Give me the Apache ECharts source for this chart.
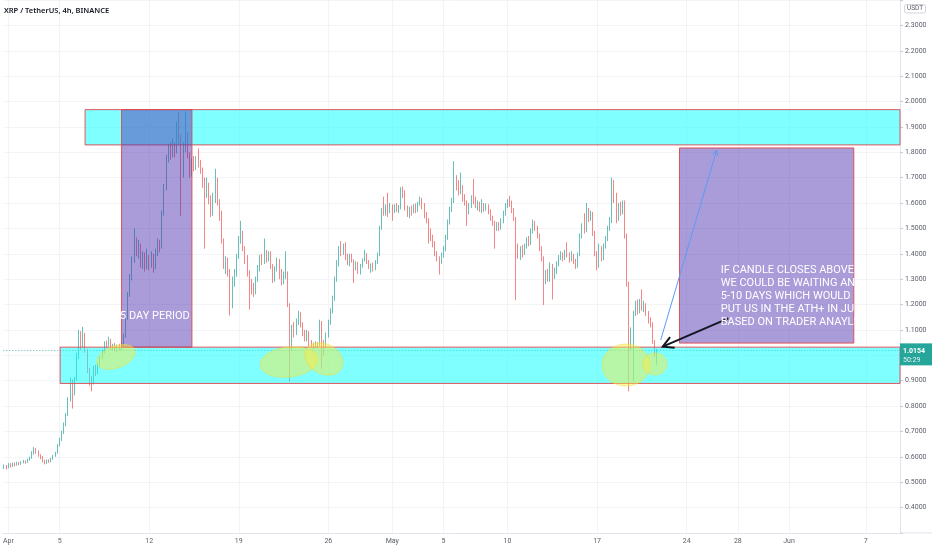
<!DOCTYPE html>
<html>
<head>
<meta charset="utf-8">
<script src="https://cdn.jsdelivr.net/npm/echarts@6/dist/echarts.min.js"></script>
<style>
    html, body { margin: 0; padding: 0; background: #ffffff; }
    #main { width: 932px; height: 550px; }
</style>
</head>
<body>
<div id="main"></div>
<script>
// XRP / USDT, 4h candles, Mar 31 16:00 -> May 21 16:00
var startDay = -1 / 3;      // days since Apr 1 00:00
var candleStep = 1 / 6;     // 4 hours
// [open, close, low, high]
var candles = [
    [.560,.565,.552,.570],[.565,.558,.550,.568],[.558,.570,.555,.575],[.570,.563,.558,.575],
    [.563,.572,.560,.578],[.572,.568,.562,.577],[.568,.575,.565,.580],[.575,.571,.566,.579],
    [.571,.578,.568,.583],[.578,.582,.574,.588],[.582,.579,.573,.586],[.579,.588,.576,.592],
    [.588,.595,.584,.600],[.595,.615,.592,.622],[.615,.628,.608,.638],[.628,.620,.612,.634],
    [.620,.605,.600,.625],[.605,.598,.590,.610],[.598,.582,.578,.602],[.582,.576,.570,.588],
    [.576,.585,.572,.590],[.585,.581,.576,.590],[.581,.592,.578,.596],[.592,.603,.588,.607],
    [.603,.615,.600,.620],[.615,.645,.612,.650],[.645,.668,.640,.675],[.668,.695,.662,.702],
    [.695,.728,.690,.735],[.728,.765,.720,.772],[.765,.825,.760,.835],[.825,.900,.818,.912],
    [.900,.850,.790,.905],[.850,.905,.842,.915],[.905,.995,.900,1.010],[.995,1.085,.985,1.100],
    [1.085,1.035,1.020,1.095],[1.035,1.080,1.030,1.112],[1.080,1.020,1.010,1.088],[1.020,.940,.930,1.025],
    [.940,.905,.880,.950],[.905,.890,.858,.918],[.890,.950,.885,.958],[.950,.930,.918,.962],
    [.930,.962,.925,.972],[.962,.990,.955,.998],[.990,1.015,.985,1.022],[1.015,1.048,1.008,1.055],
    [1.048,1.040,1.028,1.058],[1.040,1.060,1.035,1.073],[1.060,1.030,1.022,1.065],[1.030,1.038,1.018,1.045],
    [1.038,1.025,1.015,1.048],[1.025,1.035,1.015,1.042],[1.035,1.028,1.018,1.045],[1.028,1.040,1.020,1.050],
    [1.040,1.075,1.035,1.085],[1.075,1.150,1.070,1.160],[1.150,1.240,1.140,1.250],[1.240,1.310,1.230,1.320],
    [1.310,1.375,1.295,1.390],[1.375,1.440,1.365,1.500],[1.440,1.405,1.390,1.465],[1.405,1.430,1.380,1.455],
    [1.430,1.370,1.345,1.440],[1.370,1.395,1.340,1.410],[1.395,1.350,1.330,1.405],[1.350,1.385,1.340,1.420],
    [1.385,1.355,1.335,1.395],[1.355,1.390,1.345,1.410],[1.390,1.345,1.325,1.400],[1.345,1.400,1.340,1.420],
    [1.400,1.445,1.390,1.460],[1.445,1.425,1.405,1.455],[1.425,1.560,1.420,1.570],[1.560,1.660,1.550,1.675],
    [1.660,1.775,1.650,1.790],[1.775,1.815,1.760,1.830],[1.815,1.790,1.770,1.840],[1.790,1.825,1.780,1.855],
    [1.825,1.800,1.780,1.840],[1.800,1.880,1.795,1.920],[1.880,1.850,1.830,1.960],[1.850,1.720,1.550,1.870],
    [1.720,1.820,1.700,1.840],[1.820,1.860,1.800,1.960],[1.860,1.790,1.775,1.880],[1.790,1.720,1.700,1.800],
    [1.720,1.760,1.705,1.775],[1.760,1.740,1.725,1.785],[1.740,1.775,1.730,1.785],[1.775,1.760,1.740,1.815],
    [1.760,1.730,1.715,1.770],[1.730,1.680,1.660,1.740],[1.680,1.640,1.420,1.700],[1.640,1.670,1.620,1.700],
    [1.670,1.610,1.595,1.680],[1.610,1.560,1.545,1.630],[1.560,1.610,1.550,1.640],[1.610,1.690,1.600,1.735],
    [1.690,1.600,1.590,1.700],[1.600,1.560,1.530,1.615],[1.560,1.450,1.440,1.570],[1.450,1.350,1.340,1.460],
    [1.350,1.370,1.320,1.390],[1.370,1.330,1.310,1.385],[1.330,1.200,1.157,1.340],[1.200,1.290,1.185,1.310],
    [1.290,1.320,1.270,1.340],[1.320,1.390,1.310,1.400],[1.390,1.450,1.380,1.470],[1.450,1.480,1.440,1.530],
    [1.480,1.420,1.410,1.490],[1.420,1.380,1.360,1.430],[1.380,1.320,1.310,1.395],[1.320,1.280,1.180,1.335],
    [1.280,1.270,1.240,1.300],[1.270,1.250,1.230,1.285],[1.250,1.300,1.240,1.310],[1.300,1.340,1.290,1.355],
    [1.340,1.380,1.330,1.395],[1.380,1.370,1.355,1.400],[1.370,1.405,1.360,1.460],[1.405,1.380,1.365,1.415],
    [1.380,1.400,1.370,1.410],[1.400,1.350,1.340,1.410],[1.350,1.300,1.285,1.360],[1.300,1.340,1.290,1.350],
    [1.340,1.370,1.330,1.385],[1.370,1.330,1.300,1.380],[1.330,1.290,1.275,1.340],[1.290,1.315,1.280,1.330],
    [1.315,1.325,1.300,1.410],[1.325,1.200,1.190,1.330],[1.200,1.040,0.895,1.205],[1.040,1.110,1.020,1.120],
    [1.110,1.090,1.070,1.130],[1.090,1.130,1.080,1.145],[1.130,1.165,1.120,1.175],[1.165,1.120,1.110,1.170],
    [1.120,1.090,1.075,1.130],[1.090,1.065,1.055,1.100],[1.065,1.090,1.055,1.100],[1.090,1.050,1.035,1.095],
    [1.050,1.040,1.030,1.060],[1.040,1.035,1.025,1.050],[1.035,1.045,1.030,1.055],[1.045,1.040,1.030,1.052],
    [1.040,1.130,1.035,1.140],[1.130,1.050,0.945,1.135],[1.050,1.040,1.000,1.060],[1.040,1.080,1.030,1.090],
    [1.080,1.130,1.070,1.140],[1.130,1.175,1.120,1.185],[1.175,1.225,1.165,1.235],[1.225,1.300,1.215,1.310],
    [1.300,1.360,1.290,1.375],[1.360,1.420,1.350,1.430],[1.420,1.400,1.390,1.450],[1.400,1.430,1.395,1.440],
    [1.430,1.390,1.375,1.445],[1.390,1.365,1.355,1.400],[1.365,1.390,1.350,1.400],[1.390,1.372,1.365,1.400],
    [1.372,1.345,1.285,1.378],[1.345,1.360,1.335,1.370],[1.360,1.338,1.320,1.368],[1.338,1.352,1.318,1.360],
    [1.352,1.375,1.345,1.382],[1.375,1.395,1.370,1.415],[1.395,1.368,1.360,1.402],[1.368,1.350,1.340,1.375],
    [1.350,1.355,1.325,1.362],[1.355,1.340,1.330,1.365],[1.340,1.365,1.335,1.375],[1.365,1.395,1.360,1.405],
    [1.395,1.500,1.390,1.510],[1.500,1.570,1.495,1.580],[1.570,1.560,1.550,1.625],[1.560,1.580,1.550,1.595],
    [1.580,1.565,1.545,1.640],[1.565,1.590,1.560,1.600],[1.590,1.570,1.530,1.595],[1.570,1.585,1.560,1.595],
    [1.585,1.575,1.565,1.600],[1.575,1.580,1.560,1.592],[1.580,1.655,1.575,1.662],[1.655,1.640,1.620,1.665],
    [1.640,1.580,1.570,1.650],[1.580,1.560,1.545,1.590],[1.560,1.575,1.540,1.585],[1.575,1.565,1.550,1.590],
    [1.565,1.580,1.560,1.595],[1.580,1.570,1.560,1.598],[1.570,1.595,1.565,1.605],[1.595,1.615,1.590,1.625],
    [1.615,1.590,1.575,1.620],[1.590,1.555,1.540,1.600],[1.555,1.530,1.520,1.565],[1.530,1.475,1.440,1.540],
    [1.475,1.460,1.450,1.500],[1.460,1.440,1.425,1.475],[1.440,1.400,1.390,1.450],[1.400,1.380,1.370,1.410],
    [1.380,1.370,1.318,1.390],[1.370,1.395,1.360,1.405],[1.395,1.420,1.385,1.430],[1.420,1.465,1.410,1.475],
    [1.465,1.525,1.455,1.535],[1.525,1.575,1.515,1.585],[1.575,1.610,1.565,1.620],[1.610,1.690,1.600,1.765],
    [1.690,1.670,1.650,1.710],[1.670,1.645,1.630,1.690],[1.645,1.660,1.635,1.720],[1.660,1.620,1.605,1.670],
    [1.620,1.600,1.590,1.635],[1.600,1.565,1.510,1.610],[1.565,1.590,1.555,1.600],[1.590,1.620,1.580,1.630],
    [1.620,1.610,1.595,1.695],[1.610,1.590,1.580,1.625],[1.590,1.600,1.570,1.610],[1.600,1.580,1.565,1.605],
    [1.580,1.595,1.560,1.615],[1.595,1.575,1.565,1.600],[1.575,1.590,1.570,1.598],[1.590,1.565,1.555,1.595],
    [1.565,1.540,1.530,1.575],[1.540,1.520,1.510,1.550],[1.520,1.500,1.420,1.530],[1.500,1.515,1.490,1.525],
    [1.515,1.505,1.490,1.525],[1.505,1.530,1.495,1.540],[1.530,1.560,1.520,1.570],[1.560,1.590,1.550,1.600],
    [1.590,1.605,1.580,1.615],[1.605,1.600,1.585,1.628],[1.600,1.570,1.560,1.610],[1.570,1.540,1.530,1.580],
    [1.540,1.420,1.217,1.545],[1.420,1.390,1.380,1.440],[1.390,1.420,1.375,1.430],[1.420,1.400,1.385,1.435],
    [1.400,1.430,1.395,1.440],[1.430,1.455,1.420,1.465],[1.455,1.440,1.430,1.470],[1.440,1.490,1.435,1.500],
    [1.490,1.525,1.480,1.535],[1.525,1.500,1.490,1.530],[1.500,1.470,1.460,1.510],[1.470,1.420,1.410,1.480],
    [1.420,1.380,1.370,1.430],[1.380,1.290,1.198,1.390],[1.290,1.320,1.280,1.335],[1.320,1.300,1.290,1.340],
    [1.300,1.350,1.290,1.366],[1.350,1.310,1.220,1.360],[1.310,1.330,1.300,1.345],[1.330,1.360,1.320,1.370],
    [1.360,1.385,1.350,1.395],[1.385,1.395,1.375,1.410],[1.395,1.380,1.370,1.405],[1.380,1.405,1.375,1.415],
    [1.405,1.395,1.385,1.445],[1.395,1.375,1.365,1.405],[1.375,1.395,1.370,1.410],[1.395,1.370,1.360,1.400],
    [1.370,1.350,1.340,1.380],[1.350,1.395,1.345,1.405],[1.395,1.470,1.390,1.480],[1.470,1.510,1.460,1.520],
    [1.510,1.490,1.480,1.560],[1.490,1.570,1.485,1.600],[1.570,1.540,1.525,1.580],[1.540,1.560,1.530,1.570],
    [1.560,1.480,1.470,1.565],[1.480,1.400,1.390,1.490],[1.400,1.350,1.335,1.410],[1.350,1.420,1.345,1.440],
    [1.420,1.380,1.370,1.430],[1.380,1.430,1.375,1.440],[1.430,1.460,1.420,1.470],[1.460,1.500,1.450,1.510],
    [1.500,1.530,1.490,1.545],[1.530,1.670,1.520,1.700],[1.670,1.620,1.600,1.690],[1.620,1.540,1.520,1.640],
    [1.540,1.590,1.530,1.600],[1.590,1.565,1.550,1.605],[1.565,1.600,1.555,1.610],[1.600,1.470,1.460,1.610],
    [1.470,1.280,1.270,1.480],[1.280,1.040,0.858,1.290],[1.040,1.080,1.020,1.110],[1.080,1.165,0.897,1.175],
    [1.165,1.200,1.155,1.215],[1.200,1.175,1.160,1.220],[1.175,1.210,1.165,1.222],[1.210,1.185,1.175,1.260],
    [1.185,1.200,1.170,1.215],[1.200,1.165,1.155,1.205],[1.165,1.140,1.125,1.175],[1.140,1.120,1.110,1.150],
    [1.120,1.055,1.045,1.130],[1.055,1.005,0.995,1.060],[1.005,1.0154,0.963,1.025]
];
var dayTicks = [0, 4, 11, 18, 25, 30, 34, 39, 46, 53, 57, 61, 67];
var dayLabels = ['Apr', '5', '12', '19', '26', 'May', '5', '10', '17', '24', '28', 'Jun', '7'];
var lastPrice = 1.0154;
var countdown = '50:29';

// drawings, [day1, price1, day2, price2]
var topBand = [5.99, 1.968, 69.67, 1.829];
var bottomBand = [4.04, 1.032, 69.67, 0.889];
var periodBox = [8.84, 1.968, 14.34, 1.032];
var targetBox = [52.44, 1.817, 66.06, 1.048];
var noteLines = ['IF CANDLE CLOSES ABOVE', 'WE COULD BE WAITING AN', '5-10 DAYS WHICH WOULD',
    'PUT US IN THE ATH+ IN JU', 'BASED ON TRADER ANAYLS'];

var up = '#26a69a', down = '#ef5350';
var axisFont = 'Roboto, "Noto Sans", sans-serif';
var noteFont = 'Roboto, "Noto Sans", sans-serif';

var chart = echarts.init(document.getElementById('main'));

var seriesData = candles.map(function (c, i) {
    return [startDay + i * candleStep, c[0], c[1], c[2], c[3]];
});

chart.setOption({
    backgroundColor: '#ffffff',
    animation: false,
    title: {
        text: noteLines.join('\n'),
        left: 720.7,
        top: 263.5,
        padding: 0,
        z: 50,
        textStyle: { color: '#ffffff', fontSize: 11, fontWeight: 'normal', lineHeight: 13, fontFamily: noteFont }
    },
    grid: { left: 0, right: 32, top: -4.6, bottom: 17.1 },
    xAxis: {
        type: 'value',
        min: -0.397,
        max: 69.67,
        axisLine: { show: true, onZero: false, lineStyle: { color: '#e0e3eb' } },
        axisTick: { show: false, customValues: dayTicks },
        axisLabel: {
            customValues: dayTicks,
            formatter: function (v) {
                var k = dayTicks.indexOf(Math.round(v));
                return k >= 0 ? dayLabels[k] : '';
            },
            color: '#5d606b', fontSize: 7, margin: 5, fontFamily: axisFont
        },
        splitLine: { show: true, lineStyle: { color: '#f3f4f7' } }
    },
    yAxis: {
        type: 'value',
        position: 'right',
        min: 0.3,
        max: 2.4,
        interval: 0.1,
        axisLine: { show: true, onZero: false, lineStyle: { color: '#e0e3eb' } },
        axisTick: { show: true, length: 3, lineStyle: { color: '#c8cad1' } },
        axisLabel: {
            formatter: function (v) {
                return (v < 0.35 || v > 2.35) ? '' : v.toFixed(4);
            },
            color: '#5d606b', fontSize: 7, margin: 5, fontFamily: axisFont
        },
        splitLine: { show: true, lineStyle: { color: '#f3f4f7' } }
    },
    series: [{
        type: 'candlestick',
        dimensions: ['t', 'open', 'close', 'lowest', 'highest'],
        encode: { x: 't', y: ['open', 'close', 'lowest', 'highest'] },
        data: seriesData,
        barWidth: 1.3,
        itemStyle: {
            color: up, color0: down,
            borderColor: up, borderColor0: down,
            borderWidth: 0.7
        },
        markLine: {
            silent: true,
            symbol: ['none', 'none'],
            label: { show: false },
            lineStyle: { color: up, type: [1, 2], width: 1, opacity: 0.8 },
            data: [{ yAxis: lastPrice }]
        }
    }]
});

function px(d, p) {
    return chart.convertToPixel({ gridIndex: 0 }, [d, p]);
}
function boxRect(b, fill, z) {
    var a = px(b[0], b[1]), c = px(b[2], b[3]);
    return {
        type: 'rect', z: z, silent: true,
        shape: { x: Math.min(a[0], c[0]), y: Math.min(a[1], c[1]),
            width: Math.abs(c[0] - a[0]), height: Math.abs(c[1] - a[1]) },
        style: { fill: fill, stroke: 'rgba(222,70,78,0.9)', lineWidth: 1 }
    };
}
function arrow(from, tip, len, ang, color, w) {
    var dx = from[0] - tip[0], dy = from[1] - tip[1];
    var l = Math.sqrt(dx * dx + dy * dy);
    dx /= l; dy /= l;
    function rot(a) {
        return [tip[0] + len * (dx * Math.cos(a) - dy * Math.sin(a)),
            tip[1] + len * (dx * Math.sin(a) + dy * Math.cos(a))];
    }
    return [
        { type: 'polyline', z: 30, silent: true, shape: { points: [from, tip] },
            style: { stroke: color, lineWidth: w, fill: null } },
        { type: 'polyline', z: 30, silent: true, shape: { points: [rot(ang), tip, rot(-ang)] },
            style: { stroke: color, lineWidth: w, fill: null } }
    ];
}

var g = [];
g.push(boxRect(topBand, 'rgba(0,255,255,0.5)', 10));
g.push(boxRect(bottomBand, 'rgba(0,255,255,0.5)', 10));
g.push(boxRect(periodBox, 'rgba(78,46,176,0.48)', 11));
g.push(boxRect(targetBox, 'rgba(78,46,176,0.48)', 11));

// yellow highlights
[[116, 357, 20, 11, 0.35], [289, 362, 29, 15, 0.12], [324, 359, 20, 15, -0.5],
    [626, 365, 24, 21, 0], [655, 364, 12, 11, 0]].forEach(function (e) {
    g.push({ type: 'ellipse', z: 20, silent: true, x: e[0], y: e[1], rotation: e[4],
        shape: { cx: 0, cy: 0, rx: e[2], ry: e[3] },
        style: { fill: 'rgba(255,235,59,0.45)', stroke: 'rgba(240,220,60,0.5)', lineWidth: 1 } });
});

g = g.concat(arrow([660.7, 340], [716.7, 150], 6, 0.45, '#5b9cf6', 1));
g = g.concat(arrow([728.3, 318.3], [662.7, 346.7], 12, 0.5, '#131722', 2));

// text inside the period box (the part over white stays invisible, like the clipped original)
var pb = px(periodBox[0], periodBox[3]);
g.push({ type: 'text', z: 25, silent: true, x: pb[0] - 1.5, y: 316.7,
    style: { text: '5 DAY PERIOD', fill: '#ffffff', font: '11px ' + noteFont,
        textVerticalAlign: 'middle', verticalAlign: 'middle' } });

// title and price scale extras
g.push({ type: 'text', z: 40, silent: true, x: 4, y: 11,
    style: { text: 'XRP / TetherUS, 4h, BINANCE', fill: '#131722',
        font: '600 7.5px "Noto Sans", sans-serif', textVerticalAlign: 'middle', verticalAlign: 'middle' } });
g.push({ type: 'rect', z: 40, silent: true, shape: { x: 904.5, y: 4.5, width: 21, height: 8.5, r: 2 },
    style: { fill: '#ffffff', stroke: '#c8cad1', lineWidth: 0.8 } });
g.push({ type: 'text', z: 41, silent: true, x: 915, y: 8.8,
    style: { text: 'USDT', fill: '#5d606b', font: '6.5px ' + axisFont,
        textAlign: 'center', align: 'center', textVerticalAlign: 'middle', verticalAlign: 'middle' } });
g.push({ type: 'line', z: 40, silent: true, shape: { x1: 900, y1: 532.9, x2: 932, y2: 532.9 },
    style: { stroke: '#e0e3eb', lineWidth: 1 } });

var lp = px(0, lastPrice)[1];
g.push({ type: 'rect', z: 40, silent: true, shape: { x: 900, y: lp - 8, width: 32, height: 22 },
    style: { fill: up } });
g.push({ type: 'text', z: 41, silent: true, x: 903, y: lp,
    style: { text: lastPrice.toFixed(4), fill: '#ffffff', font: 'bold 7px ' + axisFont,
        textVerticalAlign: 'middle', verticalAlign: 'middle' } });
g.push({ type: 'text', z: 41, silent: true, x: 903, y: lp + 8.5,
    style: { text: countdown, fill: 'rgba(255,255,255,0.85)', font: '7px ' + axisFont,
        textVerticalAlign: 'middle', verticalAlign: 'middle' } });

chart.setOption({ graphic: g });
</script>
</body>
</html>
